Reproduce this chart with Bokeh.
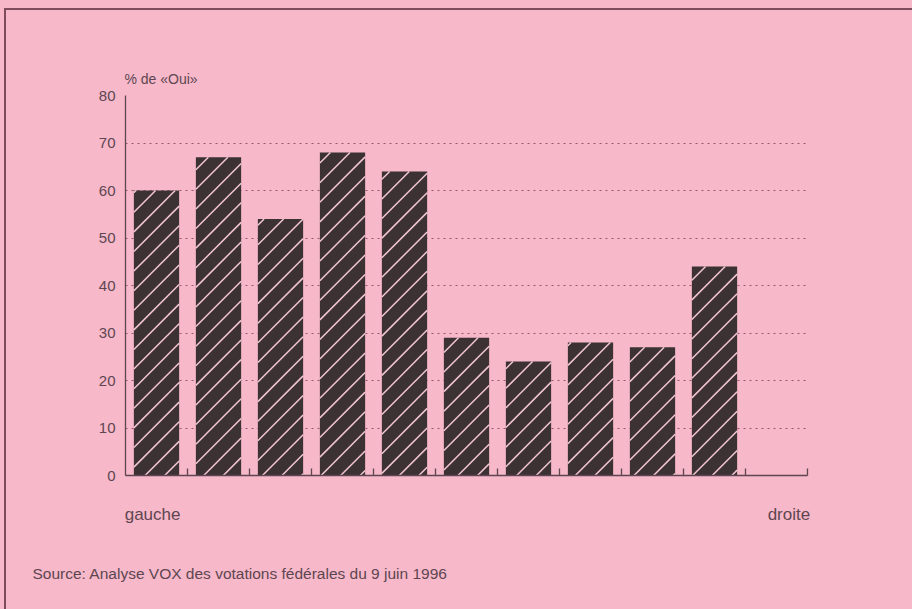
from bokeh.plotting import figure
from bokeh.models import Range1d, FixedTicker, LinearAxis, Title, ColumnDataSource
from bokeh.embed import file_html
from bokeh.resources import INLINE

# data
positions = [1, 2, 3, 4, 5, 6, 7, 8, 9, 10]
oui_pct = [60, 67, 54, 68, 64, 29, 24, 28, 27, 44]
y_ticks = [0, 10, 20, 30, 40, 50, 60, 70, 80]
y_title = "% de «Oui»"
end_labels = {0: "gauche", 1: "droite"}
source_text = "Source: Analyse VOX des votations fédérales du 9 juin 1996"

PINK = "#F7B8C9"
DARK = "#3c3234"
HATCH = "#f3c6d2"
TXT = "#5e4651"
FONT = "Liberation Sans"

W, H = 906, 606
ML, MT = 119, 85
FW, FH = 680, 378
MR, MB = W - ML - FW, H - MT - FH
N_SLOTS = 11
BAR_W = 0.73

p = figure(width=W + 2, height=H + 2, output_backend="svg", toolbar_location=None,
           x_range=Range1d(0, N_SLOTS), y_range=Range1d(0, 80),
           min_border_left=ML, min_border_right=MR,
           min_border_top=MT, min_border_bottom=MB)
p.background_fill_color = PINK
p.border_fill_color = PINK
p.outline_line_color = None

centers = [v - 0.5 for v in positions]
src = ColumnDataSource(dict(x=centers, top=oui_pct))
p.vbar(x="x", top="top", width=BAR_W, bottom=0, source=src,
       fill_color=DARK, line_color=None)

# 45-degree hatch lines inside each bar (computed from the bar values)
sx = FW / N_SLOTS          # px per x unit
sy = FH / 80.0             # px per y unit
step = 19.5                # hatch spacing, px (vertical)
x0s, y0s, x1s, y1s = [], [], [], []
for c_, t_ in zip(centers, oui_pct):
    Lp, Rp, Tp = (c_ - BAR_W / 2) * sx, (c_ + BAR_W / 2) * sx, t_ * sy
    k = int(-Rp // step) - 1
    while True:
        c = k * step
        lo, hi = max(Lp, -c), min(Rp, Tp - c)
        if -c < Lp - Tp - step:
            break
        if hi > lo:
            x0s.append(lo / sx); y0s.append((lo + c) / sy)
            x1s.append(hi / sx); y1s.append((hi + c) / sy)
        k += 1
p.segment(x0=x0s, y0=y0s, x1=x1s, y1=y1s, line_color=HATCH, line_width=1.5)

# main x axis: separator ticks only
p.xaxis.ticker = FixedTicker(ticks=list(range(1, 12)))
p.xaxis.major_label_overrides = {i: "" for i in range(1, 12)}
p.xaxis.major_tick_in = 7
p.xaxis.major_tick_out = 0
p.xaxis.minor_tick_line_color = None
p.xaxis.axis_line_color = TXT
p.xaxis.major_tick_line_color = TXT
p.xaxis.major_tick_line_width = 1.3
p.xaxis.axis_line_width = 1.3
p.xaxis.major_label_standoff = 0

# end labels axis
p.extra_x_ranges = {"ends": Range1d(-0.04255, 1.0292)}
ends_axis = LinearAxis(x_range_name="ends", ticker=FixedTicker(ticks=[0, 1]),
                       major_label_overrides=end_labels,
                       axis_line_color=None, major_tick_line_color=None,
                       minor_tick_line_color=None, major_tick_out=0, major_tick_in=0,
                       major_label_standoff=29,
                       major_label_text_font=FONT, major_label_text_font_size="17px",
                       major_label_text_color=TXT)
p.add_layout(ends_axis, "below")

p.yaxis.ticker = FixedTicker(ticks=y_ticks)
p.yaxis.major_tick_line_color = None
p.yaxis.major_tick_out = 0
p.yaxis.major_tick_in = 0
p.yaxis.minor_tick_line_color = None
p.yaxis.axis_line_color = TXT
p.yaxis.axis_line_width = 1.3
p.yaxis.major_label_text_font = FONT
p.yaxis.major_label_text_font_size = "15px"
p.yaxis.major_label_text_color = TXT
p.yaxis.major_label_standoff = 10

p.xgrid.grid_line_color = None
p.ygrid.ticker = FixedTicker(ticks=[10, 20, 30, 40, 50, 60, 70, 80])
p.ygrid.grid_line_color = "#94596b"
p.ygrid.grid_line_dash = "2 4"
p.ygrid.grid_line_width = 1.1

p.add_layout(Title(text=y_title, align="left", offset=-1, standoff=18,
                   text_font=FONT, text_font_size="14px", text_font_style="normal",
                   text_color=TXT), "above")
p.add_layout(Title(text=source_text, align="left", offset=-93, standoff=72,
                   text_font=FONT, text_font_size="15.5px", text_font_style="normal",
                   text_color=TXT), "below")

p.styles = {"border-top": "2px solid #7e4c5c", "border-left": "2px solid #7e4c5c",
            "margin-left": "4px", "margin-top": "8px"}

html = file_html(p, INLINE)
html = html.replace("</head>",
                    "<style>html, body { background-color: %s; overflow: hidden; }</style></head>" % PINK, 1)
open("out.html", "w").write(html)
